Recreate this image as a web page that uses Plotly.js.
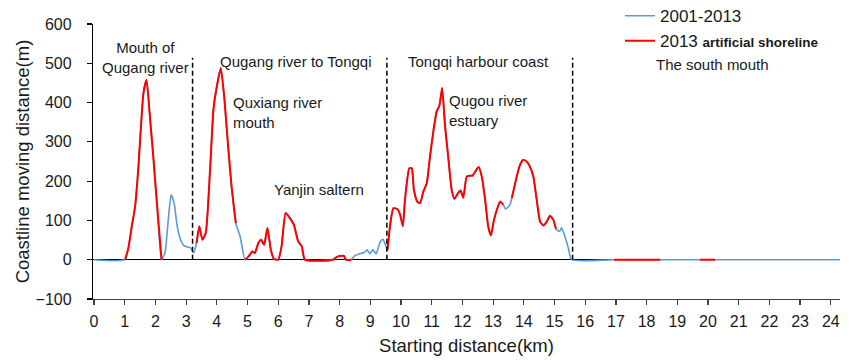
<!DOCTYPE html>
<html>
<head>
<meta charset="utf-8">
<script src="https://cdn.plot.ly/plotly-3.0.1.min.js"></script>
<style>
  html, body { margin: 0; padding: 0; background: #ffffff; }
  #chart { width: 852px; height: 360px; }
</style>
</head>
<body>
<div id="chart"></div>
<script>
// Starting distance along the coast (km) and coastline moving distance (m)
const distanceKm = [
  0, 1.01, 1.12, 1.23, 1.34, 1.44, 1.61, 1.71, 1.82, 1.93, 2.04, 2.20,
  2.31, 2.42, 2.51, 2.61, 2.71, 2.82, 2.93, 3.07, 3.15, 3.24,
  3.34, 3.43, 3.53, 3.64, 3.78, 3.89, 4.00, 4.13, 4.25, 4.36, 4.48, 4.62,
  4.76, 4.92,
  5.03, 5.16, 5.24, 5.35, 5.44, 5.54, 5.65, 5.76, 5.86, 6.00, 6.11, 6.24,
  6.38, 6.51, 6.65, 6.77, 6.87, 7.79, 7.91, 8.07, 8.14, 8.21, 8.38,
  8.49, 8.66, 8.82, 8.90, 8.99, 9.08, 9.19, 9.32, 9.41, 9.48,
  9.56, 9.64, 9.75, 9.88, 9.97, 10.06, 10.13, 10.27, 10.35, 10.42, 10.53,
  10.62, 10.73, 10.84, 10.94, 11.05, 11.16, 11.25, 11.34, 11.43, 11.54,
  11.65, 11.74, 11.87, 11.94, 12.03, 12.14, 12.25, 12.33, 12.44, 12.53,
  12.63, 12.74, 12.84, 12.93, 13.03, 13.14, 13.23, 13.33,
  13.41, 13.55,
  13.61, 13.77, 13.88, 13.98, 14.09, 14.20, 14.31, 14.42, 14.53, 14.64,
  14.75, 14.85, 14.96, 15.05,
  15.16, 15.23, 15.34, 15.45, 15.56,
  16.94, 18.44, 19.10, 19.74, 20.23, 24.30
];
const movingDistance = [
  0, 0, 30, 85, 136, 229, 424, 458, 365, 263, 153, 0,
  17, 102, 165, 144, 85, 51, 36, 32, 30, 17,
  42, 85, 51, 68, 229, 382, 441, 488, 407, 297, 187, 93,
  59, 0,
  8, 21, 17, 42, 51, 38, 81, 25, 2, 0, 34, 119,
  106, 89, 47, 34, 0, 0, 7, 10, 10, 0, 0,
  10, 15, 19, 25, 15, 25, 15, 45, 52, 41,
  25, 85, 131, 129, 115, 85, 153, 233, 233, 178, 148,
  144, 174, 195, 260, 325, 377, 392, 437, 345, 260,
  178, 155, 171, 176, 158, 212, 214, 214, 227, 236,
  212, 153, 85, 62, 102, 131, 148, 140,
  129, 140,
  157, 212, 242, 254, 250, 237, 212, 153, 97, 87,
  97, 112, 102, 78,
  72, 81, 59, 30, 0,
  0, 0, 0, 0, 0, 0
];
// Stretches of coast that are artificial shoreline in 2013 (km ranges)
const artificialSpans = [
  [1.01, 2.20], [3.34, 4.62], [4.92, 8.38], [9.56, 13.33],
  [13.61, 15.05], [16.94, 18.44], [19.74, 20.23]
];
// Section boundaries (km) and their height (m)
const sectionBounds = [3.21, 9.54, 15.59];
const boundTop = 514;

// Section / feature labels: [text, km, m, anchor]
const sectionLabels = [
  ['Mouth of<br>Qugang river', 1.69, 515, 'center'],
  ['Qugang river to Tongqi', 6.58, 504, 'center'],
  ['Quxiang river<br>mouth', 4.46, 375, 'left'],
  ['Yanjin saltern', 5.79, 178, 'left'],
  ['Tongqi harbour coast', 12.54, 504, 'center'],
  ['Qugou river<br>estuary', 11.50, 379, 'left'],
  ['The south mouth', 20.16, 496, 'center']
];

const FONT = 'Liberation Sans, Arial, sans-serif';
const TEXT = '#1a1a1a';

const artificialY = distanceKm.map((x, i) =>
  artificialSpans.some(s => x >= s[0] - 1e-9 && x <= s[1] + 1e-9) ? movingDistance[i] : null
);

const traces = [
  {
    x: distanceKm, y: movingDistance, type: 'scatter', mode: 'lines',
    name: '2001-2013', legendgroup: 'a',
    line: { color: '#5B9BD5', width: 1.6, shape: 'spline', smoothing: 0.5 },
    hoverinfo: 'skip'
  },
  {
    x: distanceKm, y: artificialY, type: 'scatter', mode: 'lines',
    name: '2013 <span style="font-size:13.5px"><b>artificial shoreline</b></span>',
    legendgroup: 'b',
    connectgaps: false,
    line: { color: '#FF0000', width: 2, shape: 'spline', smoothing: 0.5 },
    hoverinfo: 'skip'
  }
];

const shapes = sectionBounds.map(k => ({
  type: 'line', xref: 'x', yref: 'y',
  x0: k, x1: k, y0: 0, y1: boundTop,
  line: { color: '#000000', width: 1.5, dash: '5px,3px' }
}));

const annotations = sectionLabels.map(l => ({
  text: l[0], x: l[1], y: l[2], xref: 'x', yref: 'y',
  xanchor: l[3], yanchor: 'middle', align: l[3] === 'left' ? 'left' : 'center',
  showarrow: false,
  font: { family: FONT, size: 15, color: TEXT }
}));

const layout = {
  width: 852, height: 360,
  margin: { l: 93, r: 12, t: 24, b: 61, autoexpand: false },
  paper_bgcolor: '#ffffff', plot_bgcolor: '#ffffff',
  font: { family: FONT, color: TEXT },
  showlegend: true,
  legend: {
    x: 0.7055, y: 1.094, xanchor: 'left', yanchor: 'top',
    bgcolor: 'rgba(0,0,0,0)', borderwidth: 0,
    font: { family: FONT, size: 17, color: TEXT },
    traceorder: 'grouped', tracegroupgap: 0
  },
  xaxis: {
    range: [-0.033, 24.3], tick0: 0, dtick: 1,
    showgrid: false, zeroline: false,
    showline: true, linecolor: '#404040', linewidth: 1.2,
    ticks: 'outside', ticklen: 5, tickcolor: '#404040', tickwidth: 1.2,
    ticklabelstandoff: 3,
    tickfont: { family: FONT, size: 16, color: TEXT },
    title: { text: 'Starting distance(km)', font: { family: FONT, size: 18.5, color: TEXT }, standoff: 9 }
  },
  yaxis: {
    range: [-100, 600], tick0: 0, dtick: 100,
    showgrid: false,
    zeroline: true, zerolinecolor: '#000000', zerolinewidth: 1.5,
    showline: true, linecolor: '#000000', linewidth: 1.2,
    ticks: 'outside', ticklen: 5, tickcolor: '#000000', tickwidth: 1.2,
    ticklabelstandoff: 12,
    tickfont: { family: FONT, size: 16, color: TEXT },
    title: { text: 'Coastline moving distance(m)', font: { family: FONT, size: 18.5, color: TEXT }, standoff: 1 }
  },
  shapes: shapes,
  annotations: annotations
};

Plotly.newPlot('chart', traces, layout, { staticPlot: true, displayModeBar: false });
</script>
</body>
</html>
